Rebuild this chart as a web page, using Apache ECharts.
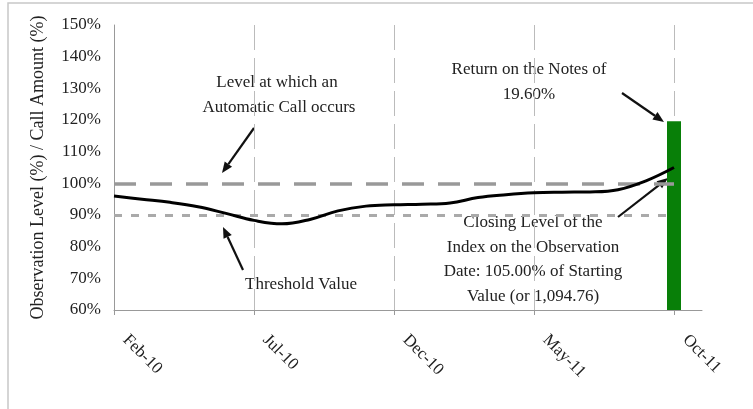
<!DOCTYPE html>
<html>
<head>
<meta charset="utf-8">
<script src="https://cdn.jsdelivr.net/npm/echarts@6/dist/echarts.min.js"></script>
<style>
  html, body { margin: 0; padding: 0; background: #fff; }
  #chart { width: 753px; height: 409px; }
</style>
</head>
<body>
<div id="chart"></div>
<script>
// monthly categories, Feb-10 .. Nov-11
const months = ['Feb-10', 'Mar-10', 'Apr-10', 'May-10', 'Jun-10', 'Jul-10', 'Aug-10', 'Sep-10',
  'Oct-10', 'Nov-10', 'Dec-10', 'Jan-11', 'Feb-11', 'Mar-11', 'Apr-11', 'May-11', 'Jun-11',
  'Jul-11', 'Aug-11', 'Sep-11', 'Oct-11', 'Nov-11']
// index level (% of starting value)
const indexLevel = [96.0, 95.0, 94.0, 92.6, 90.5, 88.3, 87.2, 88.6, 91.3, 92.8, 93.2, 93.4,
  93.8, 95.5, 96.4, 97.0, 97.2, 97.3, 98.0, 100.8, 105.0, null]
// call amount bar at Oct-11
const callAmount = [null, null, null, null, null, null, null, null, null, null, null, null,
  null, null, null, null, null, null, null, null, 119.6, null]
const callLevel = 100
const thresholdLevel = 90

const FONT = 'Liberation Serif'
const TXT = '#222'

function arrow(x1, y1, x2, y2) {
  const a = Math.atan2(y2 - y1, x2 - x1)
  const len = 11, w = 4.5
  const bx = x2 - len * Math.cos(a), by = y2 - len * Math.sin(a)
  const px = -Math.sin(a) * w, py = Math.cos(a) * w
  return [
    { type: 'line', shape: { x1: x1, y1: y1, x2: bx, y2: by }, style: { stroke: '#111', lineWidth: 2.2 } },
    { type: 'polygon', shape: { points: [[x2, y2], [bx + px, by + py], [bx - px, by - py]] }, style: { fill: '#111' } },
  ]
}

function label(x, y, text) {
  return {
    type: 'text', x: x, y: y,
    style: { text: text, font: '17px "' + FONT + '"', fill: TXT, align: 'center', verticalAlign: 'middle' },
  }
}

const chart = echarts.init(document.getElementById('chart'))
let options = {
  animation: false,
  textStyle: { fontFamily: FONT },
  grid: { left: 114, top: 25, right: 51, bottom: 99 },
  xAxis: {
    type: 'category',
    data: months,
    boundaryGap: false,
    axisLine: { lineStyle: { color: '#999', width: 1 } },
    axisTick: { show: true, interval: 4, length: 5, lineStyle: { color: '#999' } },
    axisLabel: { interval: 4, rotate: -45, margin: 16, padding: [0, 0, 0, 16], fontSize: 17, color: TXT, fontFamily: FONT },
    splitLine: { show: true, interval: 4, lineStyle: { color: '#bbb', width: 1, type: [25, 8] } },
  },
  yAxis: {
    type: 'value',
    min: 60,
    max: 150,
    interval: 10,
    name: 'Observation Level (%) / Call Amount (%)',
    nameLocation: 'middle',
    nameGap: 67,
    nameRotate: 90,
    nameTextStyle: { fontSize: 18, color: TXT, fontFamily: FONT },
    axisLine: { show: true, lineStyle: { color: '#999', width: 1 } },
    axisTick: { show: false },
    axisLabel: { formatter: '{value}%', margin: 13, fontSize: 17, color: TXT, fontFamily: FONT },
    splitLine: { show: false },
  },
  series: [
    {
      name: 'Call Amount',
      type: 'bar',
      data: callAmount,
      barWidth: 14,
      itemStyle: { color: '#087f08' },
      z: 2,
    },
    {
      name: 'Levels',
      type: 'line',
      data: [],
      silent: true,
      markLine: {
        silent: true,
        symbol: 'none',
        label: { show: false },
        data: [
          [{ coord: ['Feb-10', callLevel], lineStyle: { color: '#999', width: 3.5, type: [22, 14] } },
            { coord: ['Oct-11', callLevel] }],
          [{ coord: ['Feb-10', thresholdLevel], lineStyle: { color: '#aaa', width: 3, type: [8, 9] } },
            { coord: ['Oct-11', thresholdLevel] }],
        ],
      },
      z: 3,
    },
    {
      name: 'Index',
      type: 'line',
      data: indexLevel,
      smooth: 0.4,
      showSymbol: false,
      lineStyle: { color: '#000', width: 3 },
      z: 5,
    },
  ],
  graphic: [
    { type: 'rect', shape: { x: 8, y: 3, width: 780, height: 420 }, style: { fill: 'none', stroke: '#c8c8c8', lineWidth: 1.5 }, z: -1 },
    label(277, 83, 'Level at which an'),
    label(279, 108, 'Automatic Call occurs'),
    ...arrow(254, 128, 222, 173),
    label(529, 70, 'Return on the Notes of'),
    label(529, 95, '19.60%'),
    ...arrow(622, 93, 664, 122),
    label(301, 285, 'Threshold Value'),
    ...arrow(243, 270, 223, 227),
    label(533, 223, 'Closing Level of the'),
    label(533, 248, 'Index on the Observation'),
    label(533, 272, 'Date: 105.00% of Starting'),
    label(533, 297, 'Value (or 1,094.76)'),
    ...arrow(618, 217, 668, 178),
  ],
}
options && chart.setOption(options)
</script>
</body>
</html>
